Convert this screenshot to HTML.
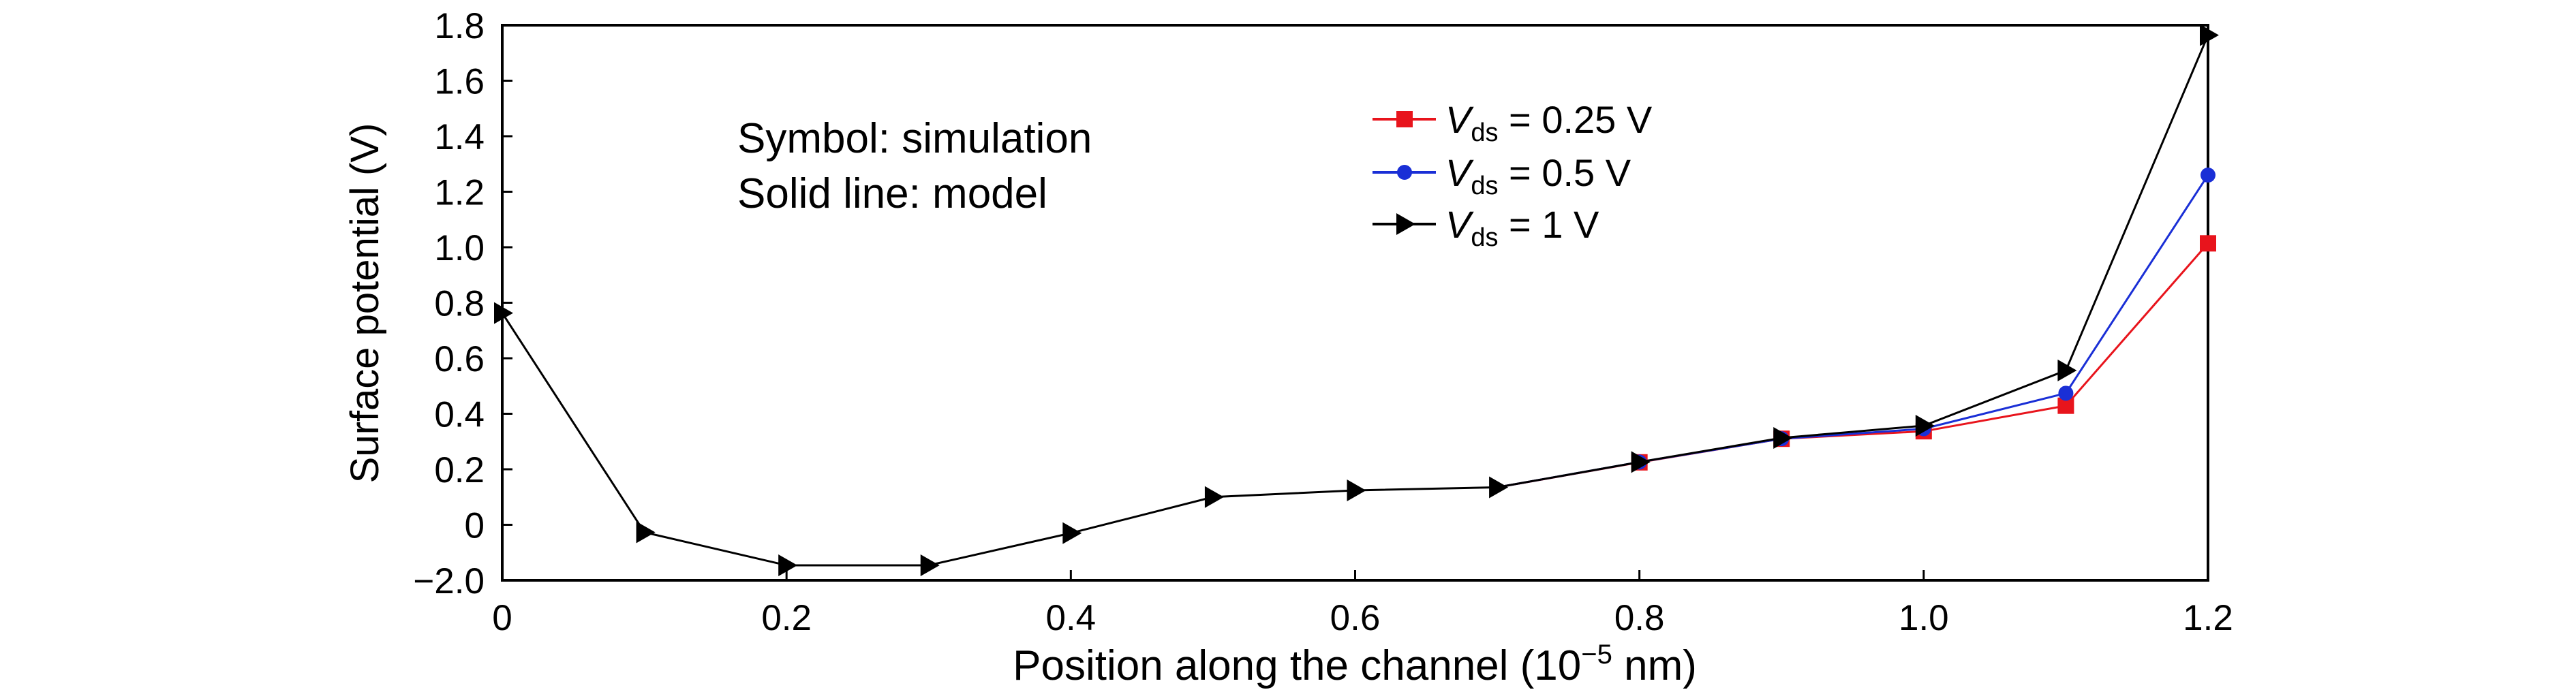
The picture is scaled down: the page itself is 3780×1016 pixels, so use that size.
<!DOCTYPE html>
<html><head><meta charset="utf-8"><style>
html,body{margin:0;padding:0;background:#fff;}
svg{display:block;font-family:"Liberation Sans",sans-serif;}
</style></head><body>
<svg id="chart" width="3780" height="1016" viewBox="0 0 3780 1016"></svg>
<script>
const xCats = [0,0.1,0.2,0.3,0.4,0.5,0.6,0.7,0.8,0.9,1.0,1.1,1.2];
const seriesRed = [null,null,null,null,null,null,null,0.135,0.225,0.31,0.337,0.429,1.014];
const seriesBlue = [null,null,null,null,null,null,null,0.135,0.226,0.31,0.346,0.474,1.26];
const seriesBlack = [0.763,-0.027,-0.146,-0.146,-0.03,0.1,0.124,0.135,0.226,0.313,0.357,0.556,1.764];
const yTicks = [-0.2,0,0.2,0.4,0.6,0.8,1.0,1.2,1.4,1.6,1.8];
const yTickLabels = ["\u22122.0","0","0.2","0.4","0.6","0.8","1.0","1.2","1.4","1.6","1.8"];
const xTicks = [0,0.2,0.4,0.6,0.8,1.0,1.2];
const xTickLabels = ["0","0.2","0.4","0.6","0.8","1.0","1.2"];

const NS="http://www.w3.org/2000/svg";
const svg=document.getElementById('chart');
const L=737,R=3240,T=37,B=852;
const xs=v=>L+(v-0)/(1.2)*(R-L);
const ys=v=>B-(v+0.2)/(2.0)*(B-T);
function mk(tag,attrs,parent){const e=document.createElementNS(NS,tag);for(const k in attrs)e.setAttribute(k,attrs[k]);(parent||svg).appendChild(e);return e;}

const box=mk('rect',{x:L,y:T,width:R-L,height:B-T,fill:'none',stroke:'#000','stroke-width':4});



yTicks.forEach((v,i)=>{
  const y=ys(v);
  const t=mk('line',{x1:L,x2:L+15,y1:y,y2:y,stroke:'#000','stroke-width':3});
  
  
  const tx=mk('text',{x:711,y:y+19,'font-size':53,'text-anchor':'end'});
  tx.textContent=yTickLabels[i];
  
  
});
xTicks.forEach((v,i)=>{
  const x=xs(v);
  const t=mk('line',{x1:x,x2:x,y1:B,y2:B-15,stroke:'#000','stroke-width':3});
  
  
  const tx=mk('text',{x:x,y:925,'font-size':53,'text-anchor':'middle'});
  tx.textContent=xTickLabels[i];
  
  
});

const yt=mk('text',{x:0,y:0,'font-size':58,'text-anchor':'middle',transform:'translate(555,445) rotate(-90)'});
yt.textContent='Surface potential (V)';



const xt=mk('text',{x:1988,y:998,'font-size':62,'text-anchor':'middle'});
xt.innerHTML='Position along the channel (10<tspan dy="-24" font-size="40">\u22125</tspan><tspan dy="24"> nm)</tspan>';



const a1=mk('text',{x:1082,y:224,'font-size':62});
a1.textContent='Symbol: simulation';


const a2=mk('text',{x:1082,y:305,'font-size':62});
a2.textContent='Solid line: model';



function marker(kind,x,y,color,g){
  let m;
  if(kind==='square') m=mk('rect',{x:x-12,y:y-12,width:24,height:24,fill:color},g);
  else if(kind==='circle') m=mk('circle',{cx:x,cy:y,r:11,fill:color},g);
  else m=mk('polygon',{points:`${x-12},${y-16} ${x+16},${y} ${x-12},${y+16}`,fill:color},g);
  return m;
}
const series=[
  {vals:seriesRed,color:'#e8141c',kind:'square',name:'vds-0.25'},
  {vals:seriesBlue,color:'#1a2fd6',kind:'circle',name:'vds-0.5'},
  {vals:seriesBlack,color:'#000',kind:'tri',name:'vds-1'}
];
series.forEach(s=>{
  const g=mk('g',{});
  
  
  const pts=xCats.map((c,i)=>s.vals[i]==null?null:xs(c)+','+ys(s.vals[i])).filter(p=>p).join(' ');
  const pl=mk('polyline',{points:pts,fill:'none',stroke:s.color,'stroke-width':3},g);
  
  
  xCats.forEach((c,i)=>{
    if(s.vals[i]==null) return;
    if(s.kind!=='tri' && c<0.75) return;
    const m=marker(s.kind,xs(c),ys(s.vals[i]),s.color,g);
    
    
  });
});

const legendRows=[{y:175,label:'0.25 V',s:series[0]},{y:253,label:'0.5 V',s:series[1]},{y:329,label:'1 V',s:series[2]}];
legendRows.forEach(r=>{
  const g=mk('g',{});
  
  
  mk('line',{x1:2014,x2:2107,y1:r.y,y2:r.y,stroke:r.s.color,'stroke-width':4},g);
  marker(r.s.kind,2061,r.y,r.s.color,g);
  const t=mk('text',{x:2121,y:r.y+20,'font-size':56},g);
  t.innerHTML='<tspan font-style="italic">V</tspan><tspan dy="12" font-size="38">ds</tspan><tspan dy="-12"> = '+r.label+'</tspan>';
});
</script>
</body></html>
